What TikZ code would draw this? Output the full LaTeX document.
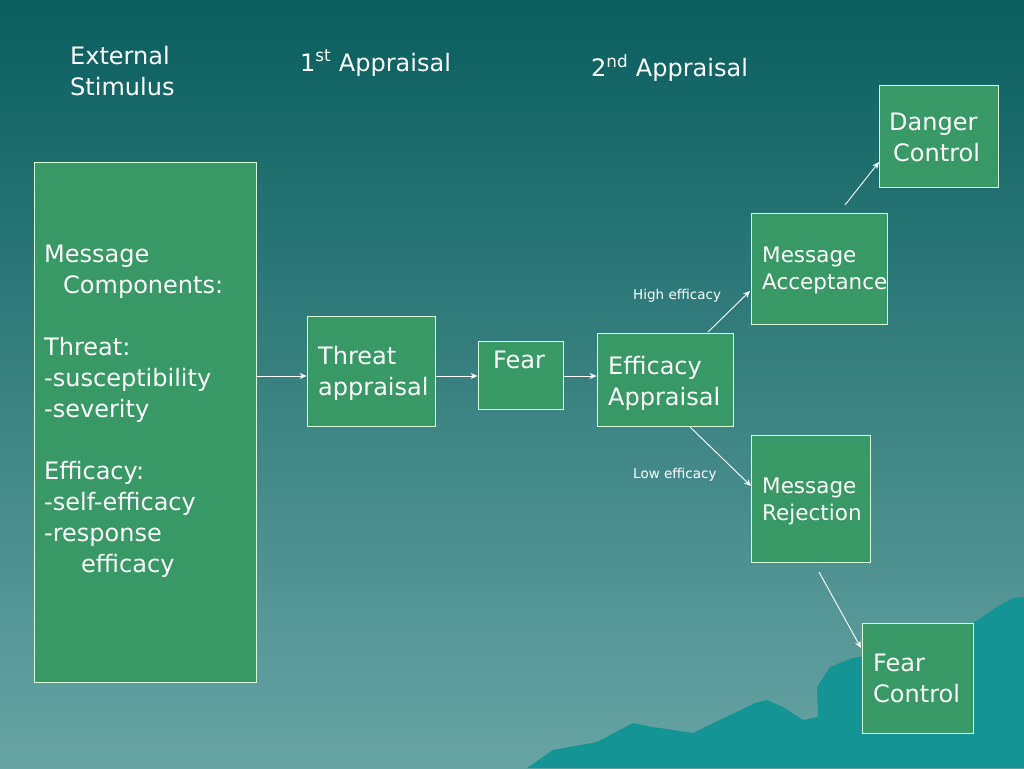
\documentclass[tikz,border=0pt]{standalone}
\usepackage{fontspec}
\setmainfont{DejaVu Sans}
\usetikzlibrary{arrows.meta}
\definecolor{bgtop}{RGB}{10,94,94}
\definecolor{bgbot}{RGB}{104,164,164}
\definecolor{mount}{RGB}{20,148,148}
\definecolor{boxg}{RGB}{56,152,102}
\begin{document}
\begin{tikzpicture}[x=1pt,y=-1pt,
  box/.style={draw=white!85!green, line width=0.8pt, fill=boxg, inner sep=0pt},
  txt/.style={text=white, anchor=north west, inner sep=0pt, align=left, font=\fontsize{24}{31}\selectfont},
  stxt/.style={text=white, anchor=north west, inner sep=0pt, align=left, font=\fontsize{21.5}{27}\selectfont},
  lbl/.style={text=white, inner sep=0pt, anchor=west, font=\fontsize{13.5}{15}\selectfont},
  arr/.style={draw=white, line width=0.9pt, -{Stealth[length=7pt,width=6pt]}}]
\useasboundingbox (0,0) rectangle (1024,768);
\shade[top color=bgtop, bottom color=bgbot] (0,0) rectangle (1024,768);
\fill[mount] (527,768) -- (553,750) -- (597,742) -- (633,723) -- (653,727) -- (693,733) -- (755,703) -- (767,700) -- (783,707) -- (803,720) -- (818,717) -- (817,687) -- (830,667) -- (853,658) -- (900,650) -- (973,623) -- (997,607) -- (1013,598) -- (1024,597) -- (1024,768) -- cycle;
% headers
\node[txt] (h0) at (70,46) {External\\Stimulus};
\node[txt] (h1) at (300,50) {1\textsuperscript{st} Appraisal};
\node[txt] (h2) at (591,55) {2\textsuperscript{nd} Appraisal};
% boxes
\node[box, minimum width=222, minimum height=520] (mc) at (145,422) {};
\node[box, minimum width=128, minimum height=110] (ta) at (371,371) {};
\node[box, minimum width=85, minimum height=68] (fe) at (520.5,375) {};
\node[box, minimum width=136, minimum height=93] (ea) at (665,379.5) {};
\node[box, minimum width=136, minimum height=111] (ma) at (819,268.5) {};
\node[box, minimum width=119, minimum height=102] (dc) at (938.5,136) {};
\node[box, minimum width=119, minimum height=127] (mr) at (810.5,498.5) {};
\node[box, minimum width=111, minimum height=110] (fc) at (917.5,678) {};
% texts
\node[txt] (t1) at (44,245) {Message\\\hspace{19pt}Components:\\[31pt]Threat:\\-susceptibility\\-severity\\[31pt]Efficacy:\\-self-efficacy\\-response\\\hspace{37pt}efficacy};
\node[txt] (t2) at (318,346) {Threat\\appraisal};
\node[txt] (t3) at (493,351) {Fear};
\node[txt] (t4) at (608,356) {Efficacy\\Appraisal};
\node[stxt] (t5) at (762,247) {Message\\Acceptance};
\node[txt] (t6) at (889,113) {Danger\\\hspace{4pt}Control};
\node[stxt] (t7) at (762,478) {Message\\Rejection};
\node[txt] (t8) at (873,654) {Fear\\Control};
\node[lbl] (l1) at (633,296) {High efficacy};
\node[lbl] (l2) at (633,475) {Low efficacy};
% connectors
\draw[arr] (mc.east |- 0,376) -- (ta.west |- 0,376);
\draw[arr] (ta.east |- 0,376) -- (fe.west |- 0,376);
\draw[arr] (fe.east |- 0,376) -- (ea.west |- 0,376);
\coordinate (a1) at (708,332); \coordinate (a2) at (750,291);
\draw[arr] (a1) -- (a2);
\coordinate (b1) at (690,427); \coordinate (b2) at (751,486);
\draw[arr] (b1) -- (b2);
\coordinate (c1) at (845,205); \coordinate (c2) at (879,162);
\draw[arr] (c1) -- (c2);
\coordinate (d1) at (819,572); \coordinate (d2) at (861,648);
\draw[arr] (d1) -- (d2);
\end{tikzpicture}
\end{document}
